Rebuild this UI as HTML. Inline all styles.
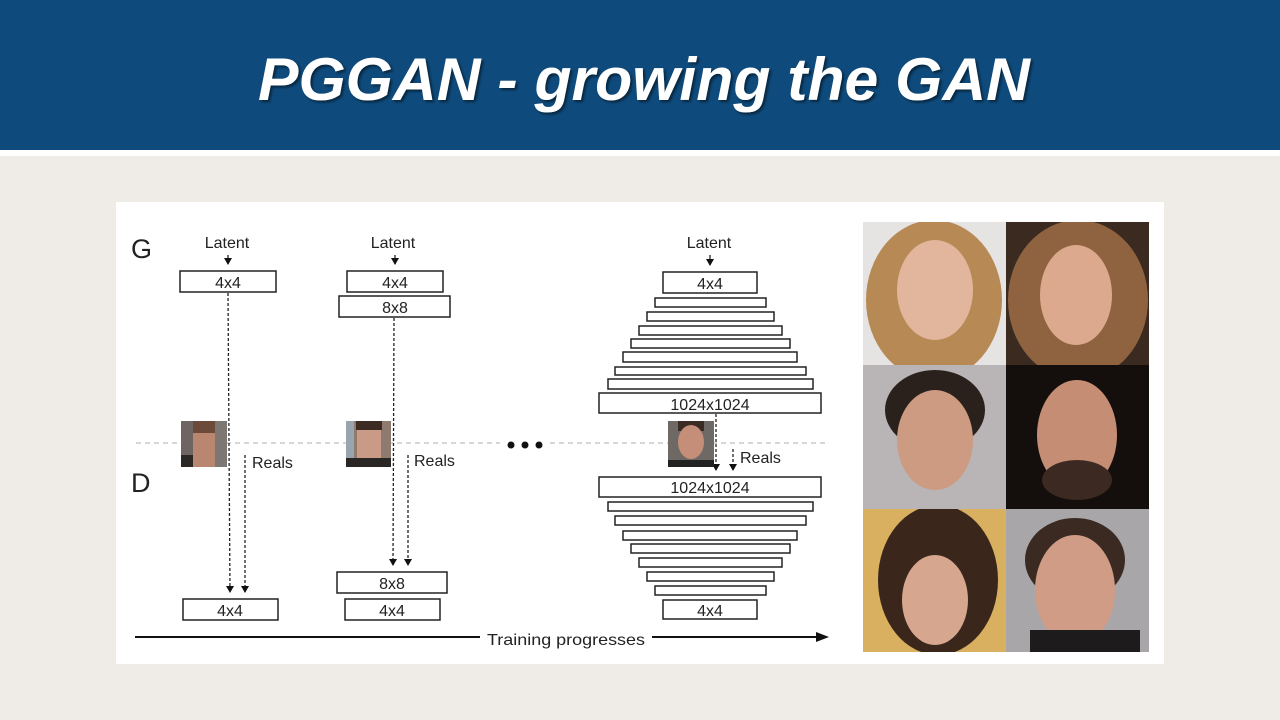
<!DOCTYPE html>
<html><head><meta charset="utf-8"><style>
html,body{margin:0;padding:0;width:1280px;height:720px;overflow:hidden;background:#efece7;}
svg{display:block}
</style></head><body>
<svg width="1280" height="720" viewBox="0 0 1280 720" xmlns="http://www.w3.org/2000/svg" font-family="Liberation Sans, sans-serif">
<defs>
<marker id="ah" markerWidth="8" markerHeight="8" refX="4" refY="7" orient="0" markerUnits="userSpaceOnUse"><path d="M0,1 L8,1 L4,8 Z" fill="#111"/></marker>
<filter id="sh"><feDropShadow dx="2" dy="2" stdDeviation="1.2" flood-color="#000" flood-opacity="0.5"/></filter>
<clipPath id="c1"><rect x="863" y="222" width="143" height="143"/></clipPath>
<clipPath id="c2"><rect x="1006" y="222" width="143" height="143"/></clipPath>
<clipPath id="c3"><rect x="863" y="365" width="143" height="144"/></clipPath>
<clipPath id="c4"><rect x="1006" y="365" width="143" height="144"/></clipPath>
<clipPath id="c5"><rect x="863" y="509" width="143" height="143"/></clipPath>
<clipPath id="c6"><rect x="1006" y="509" width="143" height="143"/></clipPath>
</defs>
<rect x="0" y="0" width="1280" height="150" fill="#0e4a7b"/>
<rect x="0" y="150" width="1280" height="6" fill="#ffffff"/>
<text x="258" y="100" font-size="60" font-weight="bold" font-style="italic" fill="#fff" textLength="772" lengthAdjust="spacingAndGlyphs" filter="url(#sh)">PGGAN - growing the GAN</text>
<rect x="116" y="202" width="1048" height="462" fill="#fff"/>

<g fill="none" stroke="#222" stroke-width="1.5">
<rect x="180" y="271" width="96" height="21"/>
<rect x="183" y="599" width="95" height="21"/>
<rect x="347" y="271" width="96" height="21"/>
<rect x="339" y="296" width="111" height="21"/>
<rect x="337" y="572" width="110" height="21"/>
<rect x="345" y="599" width="95" height="21"/>
<rect x="663" y="272" width="94" height="21"/>
<rect x="655" y="298" width="111" height="9"/>
<rect x="647" y="312" width="127" height="9"/>
<rect x="639" y="326" width="143" height="9"/>
<rect x="631" y="339" width="159" height="9"/>
<rect x="623" y="352" width="174" height="10"/>
<rect x="615" y="367" width="191" height="8"/>
<rect x="608" y="379" width="205" height="10"/>
<rect x="599" y="393" width="222" height="20"/>
<rect x="599" y="477" width="222" height="20"/>
<rect x="608" y="502" width="205" height="9"/>
<rect x="615" y="516" width="191" height="9"/>
<rect x="623" y="531" width="174" height="9"/>
<rect x="631" y="544" width="159" height="9"/>
<rect x="639" y="558" width="143" height="9"/>
<rect x="647" y="572" width="127" height="9"/>
<rect x="655" y="586" width="111" height="9"/>
<rect x="663" y="600" width="94" height="19"/>
</g>

<line x1="136" y1="443" x2="828" y2="443" stroke="#c8c8c8" stroke-width="1.5" stroke-dasharray="5,4"/>
<rect x="500" y="436" width="50" height="14" fill="#fff"/>
<circle cx="511" cy="445" r="3.5" fill="#111"/>
<circle cx="525" cy="445" r="3.5" fill="#111"/>
<circle cx="539" cy="445" r="3.5" fill="#111"/>

<g font-size="16" fill="#222" text-anchor="middle">
<text x="227" y="248">Latent</text>
<text x="393" y="248">Latent</text>
<text x="709" y="248">Latent</text>
<text x="228" y="288">4x4</text>
<text x="395" y="288">4x4</text>
<text x="395" y="313">8x8</text>
<text x="230" y="616">4x4</text>
<text x="392" y="589">8x8</text>
<text x="392" y="616">4x4</text>
<text x="710" y="289">4x4</text>
<text x="710" y="410">1024x1024</text>
<text x="710" y="493">1024x1024</text>
<text x="710" y="616">4x4</text>
</g>
<g font-size="16" fill="#222">
<text x="252" y="468">Reals</text>
<text x="414" y="466">Reals</text>
<text x="740" y="463">Reals</text>
<text x="487" y="645" textLength="158" lengthAdjust="spacingAndGlyphs">Training progresses</text>
</g>
<text x="131" y="258" font-size="27" fill="#222">G</text>
<text x="131" y="492" font-size="27" fill="#222">D</text>

<g stroke="#222" stroke-width="1.3">
<line x1="228" y1="255" x2="228" y2="264" marker-end="url(#ah)"/>
<line x1="395" y1="255" x2="395" y2="264" marker-end="url(#ah)"/>
<line x1="710" y1="255" x2="710" y2="265" marker-end="url(#ah)"/>
</g>
<g stroke="#222" stroke-width="1.3" stroke-dasharray="3,2">
<line x1="228" y1="293" x2="230" y2="592" marker-end="url(#ah)"/>
<line x1="245" y1="455" x2="245" y2="592" marker-end="url(#ah)"/>
<line x1="394" y1="318" x2="393" y2="565" marker-end="url(#ah)"/>
<line x1="408" y1="455" x2="408" y2="565" marker-end="url(#ah)"/>
<line x1="716" y1="414" x2="716" y2="470" marker-end="url(#ah)"/>
<line x1="733" y1="449" x2="733" y2="470" marker-end="url(#ah)"/>
</g>
<line x1="135" y1="637" x2="480" y2="637" stroke="#111" stroke-width="2"/>
<line x1="652" y1="637" x2="818" y2="637" stroke="#111" stroke-width="2"/>
<path d="M816,632 L829,637 L816,642 Z" fill="#111"/>

<g>
<rect x="181" y="421" width="46" height="46" fill="#9a8a80"/>
<rect x="181" y="421" width="12" height="46" fill="#6e6461"/>
<rect x="215" y="421" width="12" height="46" fill="#7d7774"/>
<rect x="193" y="421" width="22" height="12" fill="#6b4a3a"/>
<rect x="193" y="433" width="22" height="34" fill="#b98670"/>
<rect x="181" y="455" width="12" height="12" fill="#2c2826"/>
<rect x="346" y="421" width="45" height="46" fill="#8e7a6e"/>
<rect x="346" y="421" width="8" height="46" fill="#9aa4ad"/>
<rect x="356" y="421" width="26" height="9" fill="#3d2a22"/>
<rect x="357" y="430" width="24" height="30" fill="#c99a85"/>
<rect x="346" y="458" width="45" height="9" fill="#2a2624"/>
<rect x="668" y="421" width="46" height="46" fill="#6f6966"/>
<rect x="678" y="421" width="26" height="10" fill="#3a2c25"/>
<ellipse cx="691" cy="442" rx="13" ry="17" fill="#c48e78"/>
<rect x="668" y="460" width="46" height="7" fill="#222"/>
</g>

<g clip-path="url(#c1)">
<rect x="863" y="222" width="143" height="143" fill="#e6e3e3"/>
<ellipse cx="934" cy="300" rx="68" ry="80" fill="#b78a55"/>
<ellipse cx="935" cy="290" rx="38" ry="50" fill="#e2b69c"/>
</g>
<g clip-path="url(#c2)">
<rect x="1006" y="222" width="143" height="143" fill="#3a2a20"/>
<ellipse cx="1078" cy="300" rx="70" ry="80" fill="#8f6340"/>
<ellipse cx="1076" cy="295" rx="36" ry="50" fill="#dca98e"/>
</g>
<g clip-path="url(#c3)">
<rect x="863" y="365" width="143" height="144" fill="#b9b4b6"/>
<ellipse cx="935" cy="410" rx="50" ry="40" fill="#2b211c"/>
<ellipse cx="935" cy="440" rx="38" ry="50" fill="#cc9b82"/>
</g>
<g clip-path="url(#c4)">
<rect x="1006" y="365" width="143" height="144" fill="#140f0d"/>
<ellipse cx="1077" cy="435" rx="40" ry="55" fill="#c58d73"/>
<ellipse cx="1077" cy="480" rx="35" ry="20" fill="#3c2a22"/>
</g>
<g clip-path="url(#c5)">
<rect x="863" y="509" width="143" height="143" fill="#d9b060"/>
<ellipse cx="938" cy="580" rx="60" ry="75" fill="#3b261b"/>
<ellipse cx="935" cy="600" rx="33" ry="45" fill="#d6a68e"/>
</g>
<g clip-path="url(#c6)">
<rect x="1006" y="509" width="143" height="143" fill="#a8a6a8"/>
<ellipse cx="1075" cy="560" rx="50" ry="42" fill="#3a2a22"/>
<ellipse cx="1075" cy="590" rx="40" ry="55" fill="#d09c85"/>
<rect x="1030" y="630" width="110" height="22" fill="#1d1b1c"/>
</g>
</svg>
</body></html>
